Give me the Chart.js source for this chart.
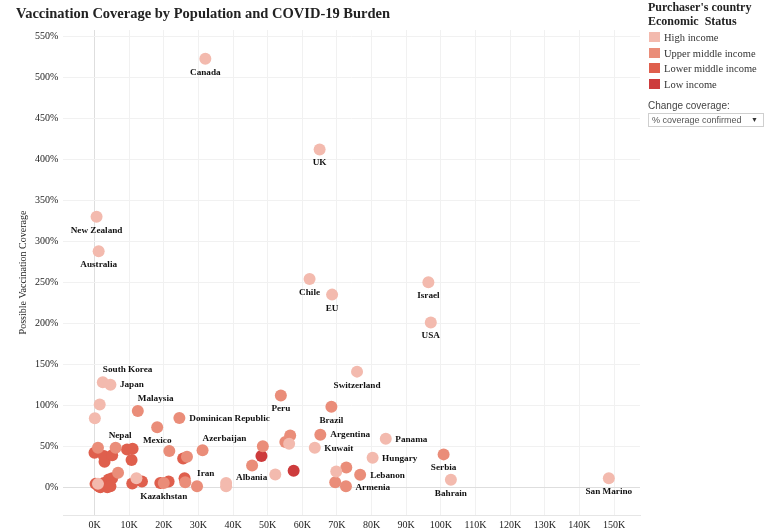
<!DOCTYPE html>
<html>
<head>
<meta charset="utf-8">
<script src="https://cdn.jsdelivr.net/npm/chart.js@4"></script>
<style>
  body { margin: 0; background: #fff; }
  #wrap { position: relative; width: 767px; height: 531px; overflow: hidden; }
  #title { position: absolute; left: 16px; top: 5px; font: bold 14.5px "Liberation Serif", serif; color: #222; white-space: nowrap; }
  #legend { position: absolute; left: 648px; top: 0px; font-family: "Liberation Serif", serif; color: #222; }
  #legend .lt { font-weight: bold; font-size: 12px; line-height: 14px; white-space: nowrap; }
  #legend .row { position: absolute; left: 1px; height: 12px; white-space: nowrap; font-size: 10.5px; line-height: 12px; color: #333; }
  #legend .sw { display: inline-block; width: 11px; height: 10px; vertical-align: -1px; margin-right: 4px; }
  #cc { position: absolute; left: 648px; top: 100px; font: 10px "Liberation Sans", sans-serif; color: #444; }
  #dd { position: absolute; left: 648px; top: 113px; width: 114px; height: 12px; border: 1px solid #cfcfcf; font: 9px "Liberation Sans", sans-serif; color: #555; line-height: 12px; }
  #dd span { position: absolute; left: 3px; }
  #dd b { position: absolute; right: 5px; font-size: 7px; color: #333; }
</style>
</head>
<body>
<div id="wrap">
  <canvas id="scatterChart" width="767" height="531"></canvas>
  <div id="title">Vaccination Coverage by Population and COVID-19 Burden</div>
  <div id="legend"><div class="lt">Purchaser's country<br>Economic&nbsp; Status</div></div>
  <div id="cc">Change coverage:</div>
  <div id="dd"><span>% coverage confirmed</span><b>&#9660;</b></div>
</div>
<script>
// income groups and their colours
const groups = ["High income", "Upper middle income", "Lower middle income", "Low income"];
const groupColors = ["#F3BAAE", "#EA8D79", "#DF5F4D", "#CD3B3C"];

// one entry per country: name ('' = unlabeled), x in thousands, coverage in %
const highNames = ["Canada", "UK", "New Zealand", "Australia", "Chile", "EU", "Israel", "USA", "Switzerland",
  "South Korea", "Japan", "", "", "Panama", "Kuwait", "Hungary", "Bahrain", "San Marino", "", "", "", "Albania", "", "", ""];
const highX = [32.0, 65.0, 0.6, 1.2, 62.1, 68.6, 96.4, 97.1, 75.8, 2.4, 4.6, 1.5, 0.1, 84.1, 63.6, 80.3, 102.9, 148.5,
  69.8, 52.2, 56.2, 38.0, 38.0, 12.1, 1.0];
const highY = [523, 412, 330, 288, 254, 235, 250, 201, 141, 128, 125, 101, 84, 59, 48, 36, 9, 11,
  19, 15.5, 53, 5, 1, 11, 4];

const upperNames = ["Peru", "Brazil", "Argentina", "Serbia", "Lebanon", "Armenia", "", "", "Malaysia",
  "Dominican Republic", "Mexico", "Azerbaijan", "", "", "Nepal", "", "", "Kazakhstan", "", "", "", "", "", ""];
const upperX = [53.8, 68.4, 65.2, 100.8, 76.7, 72.6, 72.7, 69.5, 12.5, 24.5, 18.1, 31.2, 21.6, 26.7, 6.1, 1.0, 6.8,
  20.0, 26.2, 29.6, 45.5, 48.6, 56.5, 55.1];
const upperY = [112, 98, 64, 40, 15, 1, 24, 6, 93, 84.5, 73, 45, 44, 37, 48, 48, 17.5, 5, 6, 1, 26.5, 50, 63, 55];

const lowerNames = ["", "", "", "", "", "", "", "", "Iran", "", "", "", "", "", "", "", "", "", "", "", ""];
const lowerX = [0.0, 2.7, 2.9, 5.1, 9.4, 11.0, 10.7, 25.6, 26.0, 21.4, 10.9, 13.7, 0.3, 2.7, 4.1, 5.1, 1.7, 3.7, 4.6, 1.2, 19.0];
const lowerY = [42, 38, 31, 39, 46, 47, 33, 35, 11, 7, 4.5, 7, 4, 5, 9.4, 11, 0, 0, 1, 1, 5];

const lowNames = ["", ""];
const lowX = [48.2, 57.5];
const lowY = [38, 20];

// axis ranges and tick values
const xRange = [-9, 157.5];
const yRange = [-34, 558];
const xTickValues = [0, 10, 20, 30, 40, 50, 60, 70, 80, 90, 100, 110, 120, 130, 140, 150];
const yTickValues = [0, 50, 100, 150, 200, 250, 300, 350, 400, 450, 500, 550];

// where each country label sits relative to its point: [align, dx, dy]
const labelPlace = {
  "South Korea": ["left", 0, -12.5], "Malaysia": ["left", 0, -12.5], "Azerbaijan": ["left", 0, -12],
  "Nepal": ["center", 4.5, -12.5], "Iran": ["left", 12.5, -4.5], "Albania": ["left", 10, -5],
  "Japan": ["left", 9.5, 0], "Dominican Republic": ["left", 10, 1], "Argentina": ["left", 10, 0],
  "Kuwait": ["left", 9.5, 0.5], "Panama": ["left", 9.5, 0.5], "Hungary": ["left", 9.5, 0.5],
  "Lebanon": ["left", 10, 0.5], "Armenia": ["left", 9.5, 1]
};

function pts(xs, ys) { return xs.map((x, i) => ({ x: x, y: ys[i] })); }
const allNames = [highNames, upperNames, lowerNames, lowNames];

const legend = document.getElementById("legend");
groups.forEach((g, i) => {
  const r = document.createElement("div");
  r.className = "row";
  r.style.top = (32 + i * 15.6) + "px";
  r.innerHTML = '<span class="sw" style="background:' + groupColors[i] + '"></span>' + g;
  legend.appendChild(r);
});

const countryLabels = {
  id: "countryLabels",
  afterDatasetsDraw(chart) {
    const ctx = chart.ctx;
    ctx.save();
    ctx.font = "bold 9.2px 'Liberation Serif', serif";
    ctx.fillStyle = "#111";
    ctx.textBaseline = "middle";
    chart.data.datasets.forEach((ds, di) => {
      chart.getDatasetMeta(di).data.forEach((el, i) => {
        const name = allNames[di][i];
        if (!name) return;
        const p = labelPlace[name] || ["center", 0, 13.5];
        ctx.textAlign = p[0];
        ctx.fillText(name, el.x + p[1], el.y + p[2]);
      });
    });
    ctx.restore();
  }
};

const serif = "'Liberation Serif', serif";
const gridColor = c => c.tick && c.tick.value === 0 ? "#dedede" : "#f1f1f1";

new Chart(document.getElementById("scatterChart"), {
  type: "scatter",
  data: {
    datasets: [
      { label: groups[0], data: pts(highX, highY), backgroundColor: groupColors[0] },
      { label: groups[1], data: pts(upperX, upperY), backgroundColor: groupColors[1] },
      { label: groups[2], data: pts(lowerX, lowerY), backgroundColor: groupColors[2] },
      { label: groups[3], data: pts(lowX, lowY), backgroundColor: groupColors[3] }
    ]
  },
  options: {
    responsive: false,
    animation: false,
    devicePixelRatio: 1,
    layout: { padding: { top: 30, right: 127, bottom: -4, left: 13 } },
    elements: { point: { radius: 6, borderWidth: 0, hoverRadius: 6 } },
    plugins: { legend: { display: false }, tooltip: { enabled: false } },
    scales: {
      x: {
        type: "linear", bounds: "data",
        min: xRange[0], max: xRange[1],
        afterBuildTicks: s => { s.ticks = xTickValues.map(v => ({ value: v })); },
        ticks: { padding: 4, maxRotation: 0, autoSkip: false, color: "#222",
          font: { family: serif, size: 10 }, callback: v => v + "K" },
        grid: { color: gridColor, drawTicks: false },
        border: { color: "#e6e6e6" }
      },
      y: {
        type: "linear", bounds: "data",
        min: yRange[0], max: yRange[1],
        afterBuildTicks: s => { s.ticks = yTickValues.map(v => ({ value: v })); },
        ticks: { padding: 5, autoSkip: false, color: "#222",
          font: { family: serif, size: 10 }, callback: v => v + "%" },
        grid: { color: gridColor, drawTicks: false },
        border: { display: false },
        title: { display: true, text: "Possible Vaccination Coverage", color: "#222",
          font: { family: serif, size: 10 }, padding: { top: 4, bottom: 1 } }
      }
    }
  },
  plugins: [countryLabels]
});
</script>
</body>
</html>
